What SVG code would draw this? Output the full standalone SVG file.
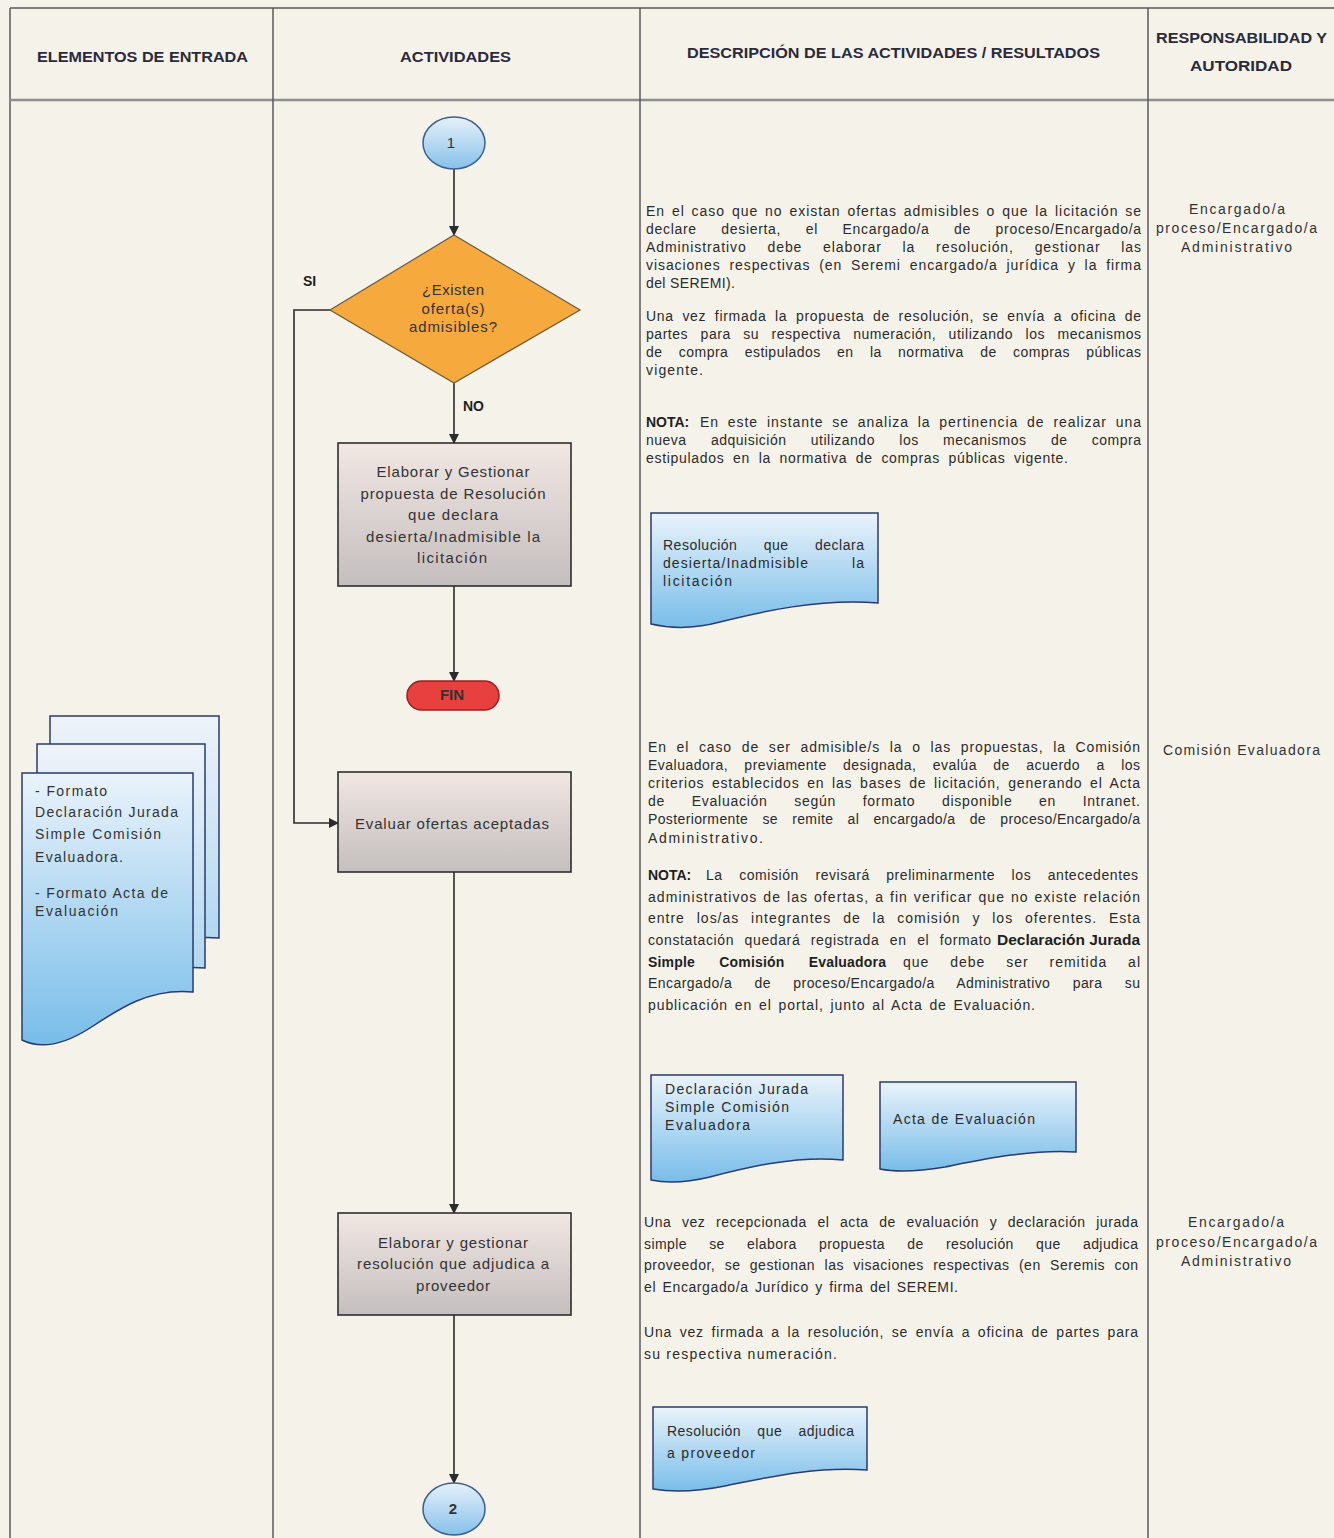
<svg xmlns="http://www.w3.org/2000/svg" width="1334" height="1538" viewBox="0 0 1334 1538">
  <defs>
    <linearGradient id="gBox" x1="0" y1="0" x2="0" y2="1">
      <stop offset="0" stop-color="#f1e7e3"/>
      <stop offset="1" stop-color="#c4bebe"/>
    </linearGradient>
    <linearGradient id="gDoc" x1="0" y1="0" x2="0" y2="1">
      <stop offset="0" stop-color="#eaf3fb"/>
      <stop offset="1" stop-color="#78bde9"/>
    </linearGradient>
    <linearGradient id="gDocBack" x1="0" y1="0" x2="0" y2="1">
      <stop offset="0" stop-color="#eef3f9"/>
      <stop offset="1" stop-color="#a9d3ef"/>
    </linearGradient>
    <linearGradient id="gConn" x1="0" y1="0" x2="0" y2="1">
      <stop offset="0" stop-color="#e6f1fb"/>
      <stop offset="1" stop-color="#86c1ea"/>
    </linearGradient>
    <marker id="arrow" viewBox="0 0 10 10" refX="9" refY="5" markerWidth="10" markerHeight="10" markerUnits="userSpaceOnUse" orient="auto">
      <path d="M0,0 L10,5 L0,10 Z" fill="#2b2b2b"/>
    </marker>
    <style>
      .head { font-family: "Liberation Sans", Arial, sans-serif; font-weight: bold; font-size: 14px; fill: #2a2a3a; }
      .t { font-family: "Liberation Sans", Arial, sans-serif; font-size: 14px; fill: #2b2b2b; }
      .b { font-family: "Liberation Sans", Arial, sans-serif; font-size: 14px; font-weight: bold; fill: #1f1f1f; }
      .c { font-family: "Liberation Sans", Arial, sans-serif; font-size: 15px; fill: #333; text-anchor: middle; }
      .r { font-family: "Liberation Sans", Arial, sans-serif; font-size: 14px; fill: #333; }
      .grid { stroke: #5a5a5a; stroke-width: 1.5; fill: none; }
      .box { fill: url(#gBox); stroke: #2e2e2e; stroke-width: 1.6; }
      .doc { fill: url(#gDoc); stroke: #2a3b6e; stroke-width: 1.5; }
      .docback { fill: url(#gDocBack); stroke: #2a3b6e; stroke-width: 1.5; }
      .conn { fill: url(#gConn); stroke: #3d5f8f; stroke-width: 1.5; }
      .edge { stroke: #2b2b2b; stroke-width: 1.6; fill: none; }
    </style>
  </defs>

  <!-- sheet background -->
  <rect x="0" y="0" width="1334" height="1538" fill="#f5f2ea"/>

  <!-- table grid -->
  <g id="grid">
    <line class="grid" x1="10" y1="8" x2="1334" y2="8"/>
    <line class="grid" x1="10" y1="8" x2="10" y2="1538"/>
    <line x1="10" y1="100" x2="1334" y2="100" stroke="#8e8e8e" stroke-width="2.5"/>
    <line class="grid" x1="273" y1="8" x2="273" y2="1538"/>
    <line class="grid" x1="640" y1="8" x2="640" y2="1538"/>
    <line class="grid" x1="1148" y1="8" x2="1148" y2="1538"/>
  </g>

  <!-- column headers -->
  <g id="headers">
    <text class="head" x="37" y="62" textLength="211" lengthAdjust="spacingAndGlyphs">ELEMENTOS DE ENTRADA</text>
    <text class="head" x="400" y="62" textLength="111" lengthAdjust="spacingAndGlyphs">ACTIVIDADES</text>
    <text class="head" x="687" y="58" textLength="413" lengthAdjust="spacingAndGlyphs">DESCRIPCIÓN DE LAS ACTIVIDADES / RESULTADOS</text>
    <text class="head" x="1156" y="43" textLength="171" lengthAdjust="spacingAndGlyphs">RESPONSABILIDAD Y</text>
    <text class="head" x="1190" y="71" textLength="102" lengthAdjust="spacingAndGlyphs">AUTORIDAD</text>
  </g>

  <!-- connectors -->
  <g id="connectors">
    <line class="edge" x1="454" y1="169" x2="454" y2="235" marker-end="url(#arrow)"/>
    <line class="edge" x1="454" y1="383" x2="454" y2="443" marker-end="url(#arrow)"/>
    <line class="edge" x1="454" y1="586" x2="454" y2="681" marker-end="url(#arrow)"/>
    <polyline class="edge" points="330,310 294,310 294,823 338,823" marker-end="url(#arrow)"/>
    <line class="edge" x1="454" y1="872" x2="454" y2="1213" marker-end="url(#arrow)"/>
    <line class="edge" x1="454" y1="1315" x2="454" y2="1483" marker-end="url(#arrow)"/>
    <text class="b" x="303" y="286" font-size="12">SI</text>
    <text class="b" x="463" y="411" font-size="12.5">NO</text>
  </g>

  <!-- activities -->
  <g id="start-1">
    <ellipse class="conn" cx="454" cy="143" rx="31" ry="26"/>
    <text class="c" x="451" y="148" font-size="14">1</text>
  </g>

  <g id="decision">
    <polygon points="454,235 580,310 454,383 330,310" fill="#f6a93c" stroke="#6b5a3a" stroke-width="1.2"/>
    <text class="c" x="453" y="295" font-size="13" fill="#6a3a12" textLength="62" lengthAdjust="spacing">¿Existen</text>
    <text class="c" x="453" y="314" font-size="13" fill="#6a3a12" textLength="63" lengthAdjust="spacing">oferta(s)</text>
    <text class="c" x="453" y="332" font-size="13" fill="#6a3a12" textLength="88" lengthAdjust="spacing">admisibles?</text>
  </g>

  <g id="task-desierta">
    <rect class="box" x="338" y="443" width="233" height="143"/>
    <text class="c" x="453" y="477" textLength="153" lengthAdjust="spacing">Elaborar y Gestionar</text>
    <text class="c" x="453" y="499" textLength="185" lengthAdjust="spacing">propuesta de Resolución</text>
    <text class="c" x="453" y="520" textLength="90" lengthAdjust="spacing">que declara</text>
    <text class="c" x="453" y="542" textLength="174" lengthAdjust="spacing">desierta/Inadmisible la</text>
    <text class="c" x="452" y="563" textLength="70" lengthAdjust="spacing">licitación</text>
  </g>

  <g id="end">
    <rect x="407" y="681" width="92" height="29" rx="14.5" fill="#e8403e" stroke="#9a1f1f" stroke-width="1.5"/>
    <text class="c" x="452" y="700" font-size="12" font-weight="bold" fill="#ffffff">FIN</text>
  </g>

  <g id="task-evaluar">
    <rect class="box" x="338" y="772" width="233" height="100"/>
    <text class="c" x="452" y="829" textLength="194" lengthAdjust="spacing">Evaluar ofertas aceptadas</text>
  </g>

  <g id="task-adjudica">
    <rect class="box" x="338" y="1213" width="233" height="102"/>
    <text class="c" x="453" y="1248" textLength="150" lengthAdjust="spacing">Elaborar y gestionar</text>
    <text class="c" x="453" y="1269" textLength="192" lengthAdjust="spacing">resolución que adjudica a</text>
    <text class="c" x="453" y="1291" textLength="74" lengthAdjust="spacing">proveedor</text>
  </g>

  <g id="end-2">
    <ellipse class="conn" cx="454" cy="1509" rx="31" ry="26"/>
    <text class="c" x="453" y="1514" font-size="14" font-weight="bold">2</text>
  </g>

  <!-- input documents -->
  <g id="input-docs">
    <path class="docback" d="M50,716 H219 V938 C180,934 150,950 120,962 C95,972 70,972 50,965 Z"/>
    <path class="docback" d="M37,744 H205 V968 C165,964 135,980 105,992 C80,1002 57,1002 37,995 Z"/>
    <path class="doc" d="M22,773 H193 V992 C150,988 120,1008 90,1028 C65,1044 42,1050 22,1040 Z"/>
    <text class="r" x="35" y="796" textLength="72" lengthAdjust="spacing">- Formato</text>
    <text class="r" x="35" y="817" textLength="143" lengthAdjust="spacing">Declaración Jurada</text>
    <text class="r" x="35" y="839" textLength="126" lengthAdjust="spacing">Simple Comisión</text>
    <text class="r" x="35" y="862" textLength="88" lengthAdjust="spacing">Evaluadora.</text>
    <text class="r" x="35" y="898" textLength="133" lengthAdjust="spacing">- Formato Acta de</text>
    <text class="r" x="35" y="916" textLength="83" lengthAdjust="spacing">Evaluación</text>
  </g>

  <!-- description block 1 (justified lines: word-spacing plus exact line length) -->
  <g id="desc-1">
    <text class="t" x="646" y="216" word-spacing="2" textLength="495" lengthAdjust="spacing">En el caso que no existan ofertas admisibles o que la licitación se</text>
    <text class="t" x="646" y="234" word-spacing="20" textLength="495" lengthAdjust="spacing">declare desierta, el Encargado/a de proceso/Encargado/a</text>
    <text class="t" x="646" y="252" word-spacing="16" textLength="495" lengthAdjust="spacing">Administrativo debe elaborar la resolución, gestionar las</text>
    <text class="t" x="646" y="270" word-spacing="4" textLength="495" lengthAdjust="spacing">visaciones respectivas (en Seremi encargado/a jurídica y la firma</text>
    <text class="t" x="646" y="288" textLength="89" lengthAdjust="spacing">del SEREMI).</text>
    <text class="t" x="646" y="321" word-spacing="4" textLength="495" lengthAdjust="spacing">Una vez firmada la propuesta de resolución, se envía a oficina de</text>
    <text class="t" x="646" y="339" word-spacing="8" textLength="495" lengthAdjust="spacing">partes para su respectiva numeración, utilizando los mecanismos</text>
    <text class="t" x="646" y="357" word-spacing="12" textLength="495" lengthAdjust="spacing">de compra estipulados en la normativa de compras públicas</text>
    <text class="t" x="646" y="375" textLength="57" lengthAdjust="spacing">vigente.</text>
    <text class="b" x="646" y="427">NOTA:</text>
    <text class="t" x="700" y="427" word-spacing="4" textLength="441" lengthAdjust="spacing">En este instante se analiza la pertinencia de realizar una</text>
    <text class="t" x="646" y="445" word-spacing="20" textLength="495" lengthAdjust="spacing">nueva adquisición utilizando los mecanismos de compra</text>
    <text class="t" x="646" y="463" word-spacing="4" textLength="422" lengthAdjust="spacing">estipulados en la normativa de compras públicas vigente.</text>
  </g>

  <g id="doc-desierta">
    <path class="doc" d="M651,513 H878 V603 C820,598 760,612 720,622 C690,630 668,628 651,624 Z"/>
    <text class="t" x="663" y="550" word-spacing="22" textLength="201" lengthAdjust="spacing">Resolución que declara</text>
    <text class="t" x="663" y="568" word-spacing="38" textLength="201" lengthAdjust="spacing">desierta/Inadmisible la</text>
    <text class="t" x="663" y="586" textLength="69" lengthAdjust="spacing">licitación</text>
  </g>

  <!-- description block 2 -->
  <g id="desc-2">
    <text class="t" x="648" y="752" word-spacing="5" textLength="492" lengthAdjust="spacing">En el caso de ser admisible/s la o las propuestas, la Comisión</text>
    <text class="t" x="648" y="770" word-spacing="12" textLength="492" lengthAdjust="spacing">Evaluadora, previamente designada, evalúa de acuerdo a los</text>
    <text class="t" x="648" y="788" word-spacing="3" textLength="492" lengthAdjust="spacing">criterios establecidos en las bases de licitación, generando el Acta</text>
    <text class="t" x="648" y="806" word-spacing="22" textLength="492" lengthAdjust="spacing">de Evaluación según formato disponible en Intranet.</text>
    <text class="t" x="648" y="824" word-spacing="10" textLength="492" lengthAdjust="spacing">Posteriormente se remite al encargado/a de proceso/Encargado/a</text>
    <text class="t" x="648" y="843" textLength="115" lengthAdjust="spacing">Administrativo.</text>
    <text class="b" x="648" y="880">NOTA:</text>
    <text class="t" x="706" y="880" word-spacing="12" textLength="432" lengthAdjust="spacing">La comisión revisará preliminarmente los antecedentes</text>
    <text class="t" x="648" y="902" word-spacing="1" textLength="492" lengthAdjust="spacing">administrativos de las ofertas, a fin verificar que no existe relación</text>
    <text class="t" x="648" y="923" word-spacing="7" textLength="492" lengthAdjust="spacing">entre los/as integrantes de la comisión y los oferentes. Esta</text>
    <text class="t" x="648" y="945" word-spacing="6" textLength="343" lengthAdjust="spacing">constatación quedará registrada en el formato</text>
    <text class="b" x="997" y="945" textLength="143" lengthAdjust="spacingAndGlyphs">Declaración Jurada</text>
    <text class="b" x="648" y="967" word-spacing="20" textLength="238" lengthAdjust="spacing">Simple Comisión Evaluadora</text>
    <text class="t" x="903" y="967" word-spacing="16" textLength="237" lengthAdjust="spacing">que debe ser remitida al</text>
    <text class="t" x="648" y="988" word-spacing="18" textLength="492" lengthAdjust="spacing">Encargado/a de proceso/Encargado/a Administrativo para su</text>
    <text class="t" x="648" y="1010" word-spacing="2" textLength="387" lengthAdjust="spacing">publicación en el portal, junto al Acta de Evaluación.</text>
  </g>

  <g id="doc-declaracion">
    <path class="doc" d="M651,1075 H843 V1160 C795,1155 745,1168 710,1177 C685,1183 665,1183 651,1180 Z"/>
    <text class="t" x="665" y="1094" textLength="143" lengthAdjust="spacing">Declaración Jurada</text>
    <text class="t" x="665" y="1112" textLength="124" lengthAdjust="spacing">Simple Comisión</text>
    <text class="t" x="665" y="1130" textLength="85" lengthAdjust="spacing">Evaluadora</text>
  </g>

  <g id="doc-acta">
    <path class="doc" d="M880,1082 H1076 V1152 C1030,1149 980,1160 945,1167 C915,1172 895,1172 880,1169 Z"/>
    <text class="t" x="893" y="1124" textLength="142" lengthAdjust="spacing">Acta de Evaluación</text>
  </g>

  <!-- description block 3 -->
  <g id="desc-3">
    <text class="t" x="644" y="1227" word-spacing="6" textLength="494" lengthAdjust="spacing">Una vez recepcionada el acta de evaluación y declaración jurada</text>
    <text class="t" x="644" y="1249" word-spacing="18" textLength="494" lengthAdjust="spacing">simple se elabora propuesta de resolución que adjudica</text>
    <text class="t" x="644" y="1270" word-spacing="5" textLength="494" lengthAdjust="spacing">proveedor, se gestionan las visaciones respectivas (en Seremis con</text>
    <text class="t" x="644" y="1292" word-spacing="2" textLength="314" lengthAdjust="spacing">el Encargado/a Jurídico y firma del SEREMI.</text>
    <text class="t" x="644" y="1337" word-spacing="3" textLength="494" lengthAdjust="spacing">Una vez firmada a la resolución, se envía a oficina de partes para</text>
    <text class="t" x="644" y="1359" textLength="193" lengthAdjust="spacing">su respectiva numeración.</text>
  </g>

  <g id="doc-adjudica">
    <path class="doc" d="M653,1407 H867 V1470 C815,1466 765,1478 725,1486 C695,1492 670,1492 653,1489 Z"/>
    <text class="t" x="667" y="1436" word-spacing="12" textLength="187" lengthAdjust="spacing">Resolución que adjudica</text>
    <text class="t" x="667" y="1458" textLength="88" lengthAdjust="spacing">a proveedor</text>
  </g>

  <!-- responsibility column -->
  <g id="resp-1">
    <text class="r" x="1189" y="214" textLength="96" lengthAdjust="spacing">Encargado/a</text>
    <text class="r" x="1156" y="233" textLength="161" lengthAdjust="spacing">proceso/Encargado/a</text>
    <text class="r" x="1181" y="252" textLength="111" lengthAdjust="spacing">Administrativo</text>
  </g>
  <g id="resp-2">
    <text class="r" x="1163" y="755" textLength="157" lengthAdjust="spacing">Comisión Evaluadora</text>
  </g>
  <g id="resp-3">
    <text class="r" x="1188" y="1227" textLength="96" lengthAdjust="spacing">Encargado/a</text>
    <text class="r" x="1156" y="1247" textLength="161" lengthAdjust="spacing">proceso/Encargado/a</text>
    <text class="r" x="1181" y="1266" textLength="110" lengthAdjust="spacing">Administrativo</text>
  </g>
</svg>
